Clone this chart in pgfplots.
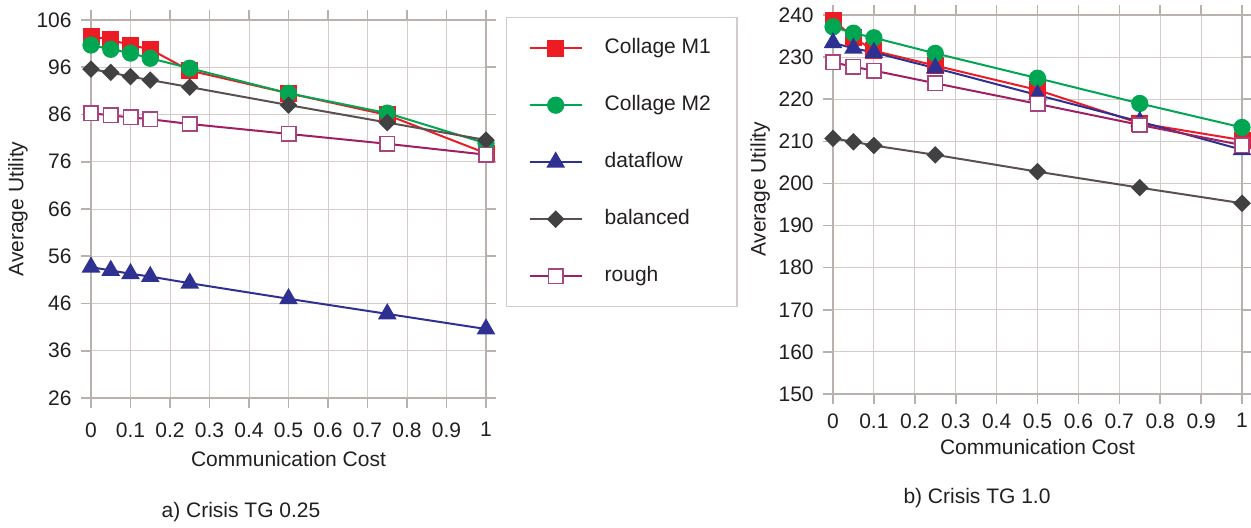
\documentclass[border=0pt]{standalone}
\usepackage{fontspec}
\setmainfont{Liberation Sans}
\usepackage{pgfplots}
\usepackage{pgfplotstable}
\pgfplotsset{compat=1.18}
\definecolor{cm1}{HTML}{ED1C24}
\definecolor{cm2}{HTML}{00A651}
\definecolor{cdf}{HTML}{2E3192}
\definecolor{cbalm}{HTML}{414042}
\definecolor{cball}{HTML}{5B4F4F}
\definecolor{crough}{HTML}{9E1F63}
\definecolor{croughm}{HTML}{A8457F}
\definecolor{textc}{HTML}{231F20}
\definecolor{gridc}{HTML}{D3CBC9}
\definecolor{axisc}{HTML}{BAB1AE}

% columns: cost, Collage M1, Collage M2, dataflow, balanced, rough
\pgfplotstableread{
x m1 m2 df bal rough
0 102.6 100.7 53.7 95.6 86.3
0.05 101.8 99.8 53.0 94.9 85.8
0.1 100.7 99.0 52.3 94.0 85.4
0.15 99.8 97.9 51.7 93.3 85.0
0.25 95.3 95.8 50.3 91.8 84.0
0.5 90.5 90.5 47.0 88.0 81.9
0.75 85.9 86.3 43.8 84.3 79.8
1 77.8 79.9 40.6 80.6 77.5
}\crisisA
\pgfplotstableread{
x m1 m2 df bal rough
0 238.8 237.2 233.4 210.7 228.8
0.05 234.7 235.7 232.1 209.9 227.7
0.1 231.5 234.6 231.1 209.0 226.8
0.25 228.0 230.9 227.4 206.8 223.8
0.5 222.2 225.0 221.0 202.8 218.9
0.75 214.3 219.0 214.7 199.0 213.9
1 210.3 213.3 208.0 195.3 209.1
}\crisisB

\pgfplotsset{
  utilaxis/.style={
    scale only axis,
    font=\fontsize{10.5}{12.5}\selectfont,
    /pgf/number format/assume math mode=true,
    xmin=0, xmax=1,
    xtick={0,0.1,...,1},
    xticklabels={0,0.1,0.2,0.3,0.4,0.5,0.6,0.7,0.8,0.9,1},
    grid=major,
    grid style={gridc, line width=0.5pt},
    axis line style={axisc, line width=0.9pt},
    tick align=outside,
    major tick length=5pt,
    tick style={axisc, line width=0.8pt},
    xlabel={Communication Cost},
    ylabel={Average Utility},
    yticklabel style={inner xsep=4.5pt},
    every axis plot/.append style={line width=1pt},
    legend image code/.code={
      \draw[mark repeat=2, mark phase=2] plot coordinates {(0pt,0pt) (13pt,0pt) (26pt,0pt)};},
  },
  m1/.style={cm1, mark=square*, mark size=3.75pt, mark options={fill=cm1}},
  m2/.style={cm2, mark=*, mark size=3.8pt, mark options={fill=cm2}},
  df/.style={cdf, mark=triangle*, mark size=4.4pt, mark options={fill=cdf}},
  bal/.style={cball, mark=square*, mark size=2.6pt, mark options={rotate=45, draw=cbalm, fill=cbalm}},
  rough/.style={crough, mark=square*, mark size=3.6pt, mark options={draw=croughm, fill=white, line width=0.8pt}},
}

\begin{document}
\color{textc}
\begin{tikzpicture}
\useasboundingbox (0,0) rectangle (625.5pt,263.5pt);

\begin{axis}[utilaxis,
  at={(45.5pt,64.5pt)}, anchor=south west,
  width=197.5pt, height=189pt,
  ymin=26, ymax=106, ytick={26,36,...,106},
  xticklabel style={inner ysep=7pt},
  xlabel style={at={(axis description cs:0.5,-0.161)}, anchor=center},
  ylabel style={at={(axis description cs:-0.185,0.5)}, anchor=center},
  legend style={at={(rel axis cs:1.0506,1.008)}, anchor=north west,
    draw=gridc, line width=0.7pt, inner xsep=11pt, inner ysep=8pt,
    row sep=14pt, cells={anchor=west},
    nodes={text height=8pt, text depth=2.5pt, inner sep=2pt},
    /tikz/every odd column/.append style={column sep=9pt},
    /tikz/every even column/.append style={column sep=8pt}},
]
\addplot[m1] table[x=x, y=m1] {\crisisA};
\addplot[m2] table[x=x, y=m2] {\crisisA};
\addplot[df] table[x=x, y=df] {\crisisA};
\addplot[bal] table[x=x, y=bal] {\crisisA};
\addplot[rough] table[x=x, y=rough] {\crisisA};
\legend{Collage M1, Collage M2, dataflow, balanced, rough}
\end{axis}

\begin{axis}[utilaxis,
  at={(416.5pt,66.5pt)}, anchor=south west,
  width=204.5pt, height=189.5pt,
  ymin=150, ymax=240, ytick={150,160,...,240},
  xticklabel style={inner ysep=4.5pt},
  xlabel style={at={(axis description cs:0.5,-0.139)}, anchor=center},
  ylabel style={at={(axis description cs:-0.178,0.54)}, anchor=center},
]
\addplot[m1] table[x=x, y=m1] {\crisisB};
\addplot[m2] table[x=x, y=m2] {\crisisB};
\addplot[df] table[x=x, y=df] {\crisisB};
\addplot[bal] table[x=x, y=bal] {\crisisB};
\addplot[rough] table[x=x, y=rough] {\crisisB};
\end{axis}

\node[font=\fontsize{10.5}{12.5}\selectfont] at (120.5pt,7.5pt) {a) Crisis TG 0.25};
\node[font=\fontsize{10.5}{12.5}\selectfont] at (488.5pt,14.5pt) {b) Crisis TG 1.0};
\end{tikzpicture}
\end{document}
